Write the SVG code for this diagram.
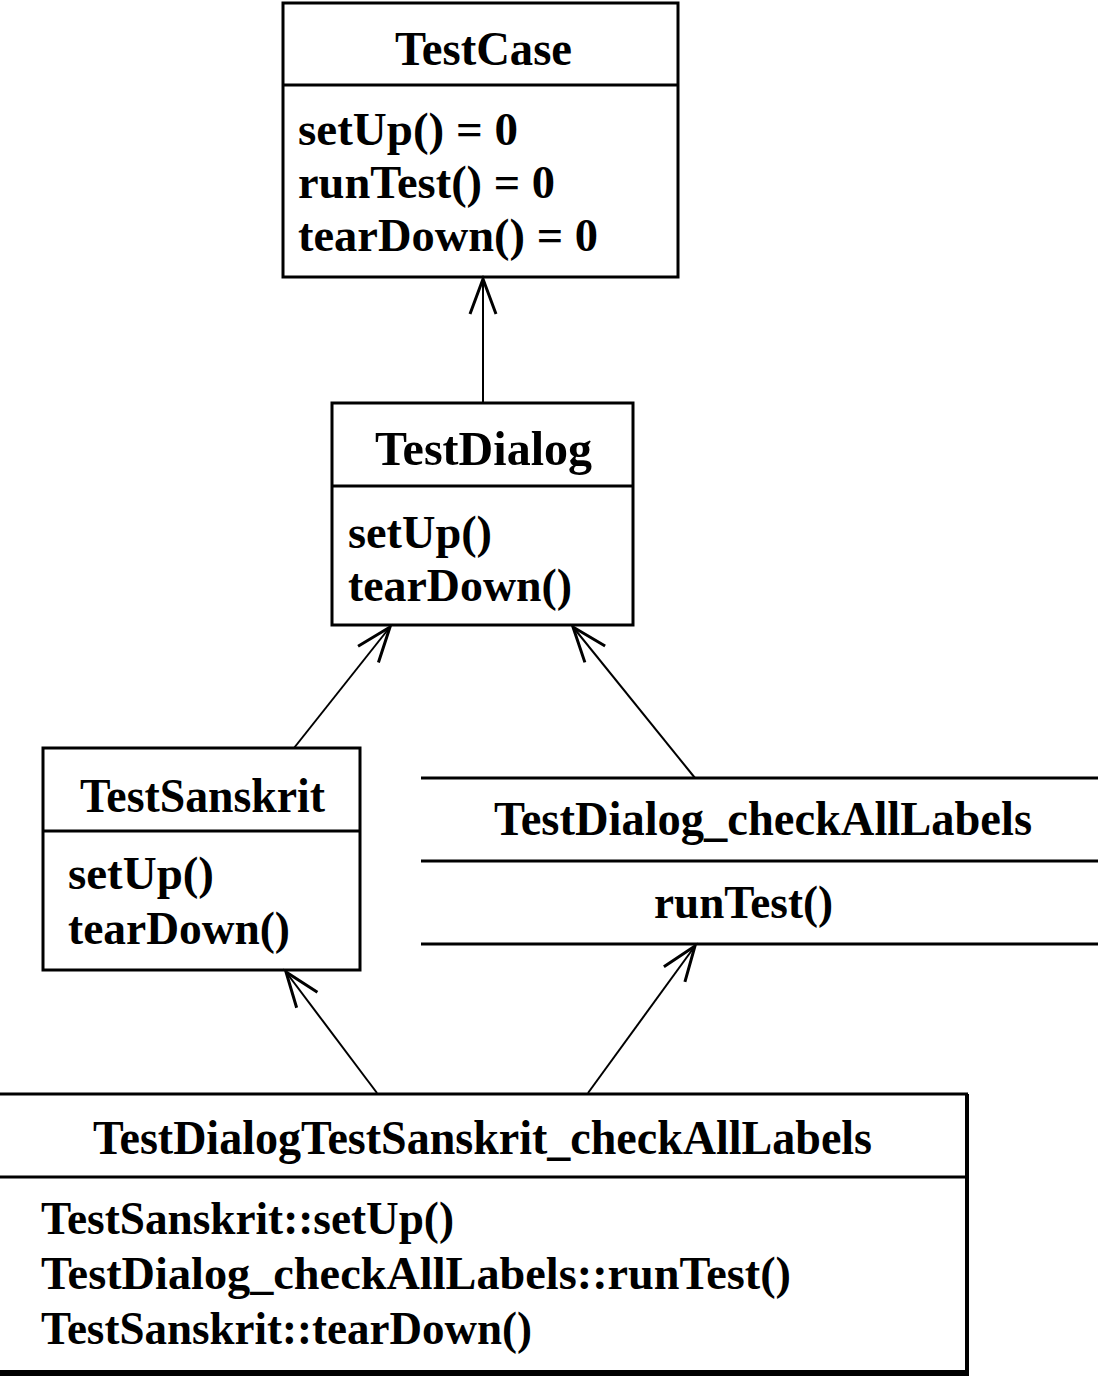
<svg xmlns="http://www.w3.org/2000/svg" width="1101" height="1381" viewBox="0 0 1101 1381">
<style>
.bg{fill:#ffffff}
.box{fill:none;stroke:#000;stroke-width:3}
.ln{stroke:#000;stroke-width:3;fill:none}
.conn{stroke:#000;stroke-width:2;fill:none}
.t{font-family:"Liberation Serif","Times New Roman",serif;font-weight:bold;fill:#000}
.title{font-size:49px}
.m{font-size:47px}
</style>
<defs>
<marker id="open" markerUnits="userSpaceOnUse" markerWidth="50" markerHeight="40" refX="0" refY="0" viewBox="-40 -20 50 40" orient="auto" overflow="visible">
<path d="M-35,-13 L0,0 L-35,13" fill="none" stroke="#000" stroke-width="3"/>
</marker>
</defs>
<rect class="bg" x="0" y="0" width="1101" height="1381"/>

<g id="connectors">
<line class="conn" x1="483" y1="403" x2="483" y2="279" marker-end="url(#open)"/>
<line class="conn" x1="294" y1="748" x2="390" y2="627" marker-end="url(#open)"/>
<line class="conn" x1="695" y1="778" x2="573" y2="627" marker-end="url(#open)"/>
<line class="conn" x1="377" y1="1093" x2="286" y2="972" marker-end="url(#open)"/>
<line class="conn" x1="588" y1="1093" x2="695" y2="946" marker-end="url(#open)"/>
</g>

<g id="TestCase">
<rect class="box" x="283" y="3" width="395" height="274"/>
<line class="ln" x1="283" y1="85" x2="678" y2="85"/>
<text class="t title" x="395" y="65" textLength="177" lengthAdjust="spacingAndGlyphs">TestCase</text>
<text class="t m" x="298" y="145" textLength="220" lengthAdjust="spacingAndGlyphs">setUp() = 0</text>
<text class="t m" x="298" y="198" textLength="257" lengthAdjust="spacingAndGlyphs">runTest() = 0</text>
<text class="t m" x="298" y="251" textLength="300" lengthAdjust="spacingAndGlyphs">tearDown() = 0</text>
</g>

<g id="TestDialog">
<rect class="box" x="332" y="403" width="301" height="222"/>
<line class="ln" x1="332" y1="486" x2="633" y2="486"/>
<text class="t title" x="375" y="465" textLength="217" lengthAdjust="spacingAndGlyphs">TestDialog</text>
<text class="t m" x="348" y="548" textLength="144" lengthAdjust="spacingAndGlyphs">setUp()</text>
<text class="t m" x="348" y="601" textLength="224" lengthAdjust="spacingAndGlyphs">tearDown()</text>
</g>

<g id="TestSanskrit">
<rect class="box" x="43" y="748" width="317" height="222"/>
<line class="ln" x1="43" y1="831" x2="360" y2="831"/>
<text class="t title" x="80" y="812" textLength="245" lengthAdjust="spacingAndGlyphs">TestSanskrit</text>
<text class="t m" x="68" y="889" textLength="146" lengthAdjust="spacingAndGlyphs">setUp()</text>
<text class="t m" x="68" y="944" textLength="222" lengthAdjust="spacingAndGlyphs">tearDown()</text>
</g>

<g id="TestDialog_checkAllLabels">
<line class="ln" x1="421" y1="778" x2="1098" y2="778"/>
<line class="ln" x1="421" y1="861" x2="1098" y2="861"/>
<line class="ln" x1="421" y1="944" x2="1098" y2="944"/>
<text class="t title" x="494" y="835" textLength="538" lengthAdjust="spacingAndGlyphs">TestDialog_checkAllLabels</text>
<text class="t m" x="654" y="918" textLength="179" lengthAdjust="spacingAndGlyphs">runTest()</text>
</g>

<g id="TestDialogTestSanskrit_checkAllLabels">
<line class="ln" x1="0" y1="1094" x2="968" y2="1094"/>
<line class="ln" x1="0" y1="1177" x2="967" y2="1177"/>
<line class="ln" x1="967" y1="1094" x2="967" y2="1374" style="stroke-width:4"/>
<line class="ln" x1="0" y1="1373" x2="969" y2="1373" style="stroke-width:6"/>
<text class="t title" x="93" y="1154" textLength="779" lengthAdjust="spacingAndGlyphs">TestDialogTestSanskrit_checkAllLabels</text>
<text class="t m" x="41" y="1234" textLength="413" lengthAdjust="spacingAndGlyphs">TestSanskrit::setUp()</text>
<text class="t m" x="41" y="1289" textLength="750" lengthAdjust="spacingAndGlyphs">TestDialog_checkAllLabels::runTest()</text>
<text class="t m" x="41" y="1344" textLength="491" lengthAdjust="spacingAndGlyphs">TestSanskrit::tearDown()</text>
</g>
</svg>
